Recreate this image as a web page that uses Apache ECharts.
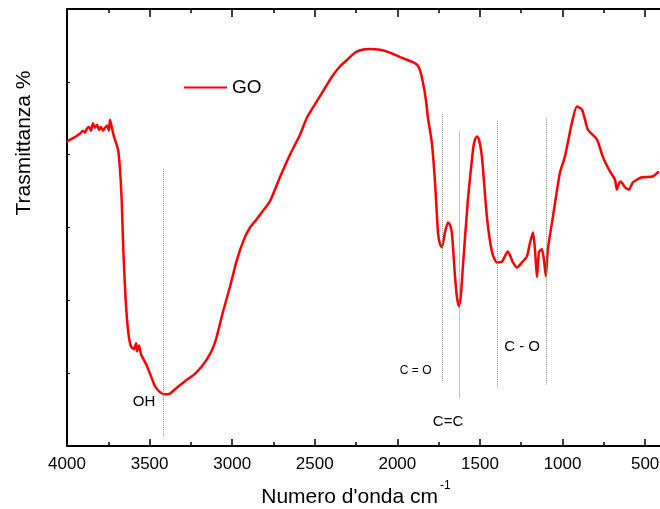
<!DOCTYPE html>
<html>
<head>
<meta charset="utf-8">
<script src="https://cdn.jsdelivr.net/npm/echarts@6/dist/echarts.min.js"></script>
<style>html,body{margin:0;padding:0;background:#fff;}#c{width:660px;height:509px;}</style>
</head>
<body>
<div id="c"></div>
<script>
var wavenumber = [4000,3970,3946,3921,3903,3891,3879,3867,3855,3843,3831,3818,3806,3794,3782,3770,3758,3746,3740,3728,3716,
3691,3679,3669,3659,3645,3629,3613,3594,3582,3576,3564,3552,3516,3467,3437,3407,3377,3346,3286,3225,3153,3104,3056,3013,2971,
2928,2892,2856,2820,2771,2711,2650,2590,2547,2469,2396,2348,2305,2257,2214,2166,2105,2045,1984,1906,1875,1863,1845,1827,1815,
1791,1772,1754,1742,1730,1712,1694,1682,1670,1651,1639,1627,1615,1603,1573,1542,1530,1518,1506,1488,1458,1427,1397,1367,1331,
1300,1276,1246,1216,1197,1179,1167,1155,1143,1125,1113,1101,1089,1058,1016,986,943,913,883,864,846,792,756,713,683,671,659,647,
622,598,574,520,454,417];
var transmittance = [41.8,42.2,42.5,42.9,43.3,43.0,43.6,43.8,43.3,44.3,43.7,44.1,43.4,43.8,43.3,43.7,44.0,43.3,44.8,43.7,42.5,
40.7,37.9,33.8,26.9,20.1,15.6,13.7,13.3,14.1,13.0,13.8,12.6,11.0,8.2,7.4,7.1,7.2,7.8,8.9,9.9,11.9,14.2,18.4,21.9,25.6,
28.4,30.0,31.0,32.1,33.6,36.9,40.0,42.7,45.1,48.0,50.7,52.1,53.0,54.0,54.4,54.5,54.4,54.0,53.4,52.7,52.2,51.6,49.9,47.5,45.1,
41.6,36.2,29.3,27.7,27.3,29.3,30.7,30.4,29.3,23.3,20.4,19.2,20.8,24.7,33.8,40.7,42.1,42.5,42.1,39.7,31.5,26.6,25.2,25.3,26.7,
25.2,24.5,25.2,26.0,27.9,29.3,27.0,23.2,26.6,27.0,25.6,23.3,27.0,31.5,37.5,39.7,44.4,46.6,46.2,44.8,43.4,42.1,39.7,37.7,36.6,35.2,36.0,36.3,
35.5,35.2,36.2,36.9,37.0,37.7];
var xTicks = [4000,3500,3000,2500,2000,1500,1000,500];
var xMinorTicks = [3750,3250,2750,2250,1750,1250,750];
// annotation bands: [wavenumber, yTop, yBottom]
var bandLines = [[3420,38.0,1.2],[1730,45.6,8.8],[1625,43.2,6.6],[1395,44.6,8.0],[1100,45.0,8.4]];
var bandLabels = [["OH",3534,6.0,15],["C = O",1889,10.4,12],["C - O",1245,13.6,15],["C=C",1693,3.3,15]];

var seriesData = wavenumber.map(function(w,i){return [w, transmittance[i]];});

var chart = echarts.init(document.getElementById('c'), null, {renderer:'canvas'});
var axisFont = 'Liberation Sans, Arial, sans-serif';
var X_MIN = 410, X_MAX = 4000;
function xAx(pos, major, showLine, len, showLabel){
  var vals = major ? xTicks : xMinorTicks;
  return {
    type:'value', min:X_MIN, max:X_MAX, inverse:true, position:pos,
    axisLine:{show:showLine, onZero:false, lineStyle:{color:'#000', width:2}},
    axisTick:{show:true, inside:true, length:len, customValues:vals, lineStyle:{color:'#000', width:1.5}},
    axisLabel:{show:showLabel, customValues:vals, fontSize:17, color:'#000', fontFamily:axisFont, margin:10,
      formatter:function(v){return String(v);}},
    splitLine:{show:false}
  };
}
var option = {
  animation:false,
  backgroundColor:'#fff',
  grid:{left:67, top:9, right:0, height:437, containLabel:false, outerBoundsMode:'none'},
  legend:{
    data:['GO'], left:184, top:78, padding:0, icon:'rect', itemWidth:43, itemHeight:2,
    itemGap:10, textStyle:{fontSize:19, color:'#000', fontFamily:axisFont}
  },
  xAxis:[
    xAx('bottom', true, true, 7, true),
    xAx('bottom', false, false, 4, false),
    xAx('top', true, true, 8, false),
    xAx('top', false, false, 4, false)
  ],
  yAxis:{
    type:'value', min:0, max:60, interval:10,
    axisLine:{show:true, onZero:false, lineStyle:{color:'#000', width:2}},
    axisTick:{show:true, inside:true, length:3, lineStyle:{color:'#000', width:1}},
    axisLabel:{show:false}, splitLine:{show:false}
  },
  series:[{
    name:'GO', type:'line', xAxisIndex:0, data:seriesData, symbol:'none', smooth:0.2,
    lineStyle:{color:'#ff0000', width:2.5}, itemStyle:{color:'#ff0000'},
    markLine:{
      silent:true, symbol:['none','none'],
      lineStyle:{type:'dotted', color:'#888', width:1},
      label:{show:false},
      data: bandLines.map(function(b){return [{coord:[b[0],b[1]]},{coord:[b[0],b[2]]}];})
    },
    markPoint:{
      silent:true, symbol:'circle', symbolSize:0,
      data: bandLabels.map(function(l){return {coord:[l[1],l[2]], value:l[0],
        label:{show:true, position:'inside', formatter:l[0], fontSize:l[3], color:'#000', fontFamily:axisFont}};})
    }
  }],
  graphic:[
    {type:'text', x:24, y:143, rotation:Math.PI/2,
      style:{text:'Trasmittanza %', fontSize:21, fontFamily:axisFont, fill:'#000', textAlign:'center', textVerticalAlign:'middle'}},
    {type:'text', x:438, y:497,
      style:{text:"Numero d'onda cm", fontSize:21, fontFamily:axisFont, fill:'#000', textAlign:'right', textVerticalAlign:'middle'}},
    {type:'text', x:440, y:486,
      style:{text:'-1', fontSize:12, fontFamily:axisFont, fill:'#000', textAlign:'left', textVerticalAlign:'middle'}}
  ]
};
chart.setOption(option);
</script>
</body>
</html>
